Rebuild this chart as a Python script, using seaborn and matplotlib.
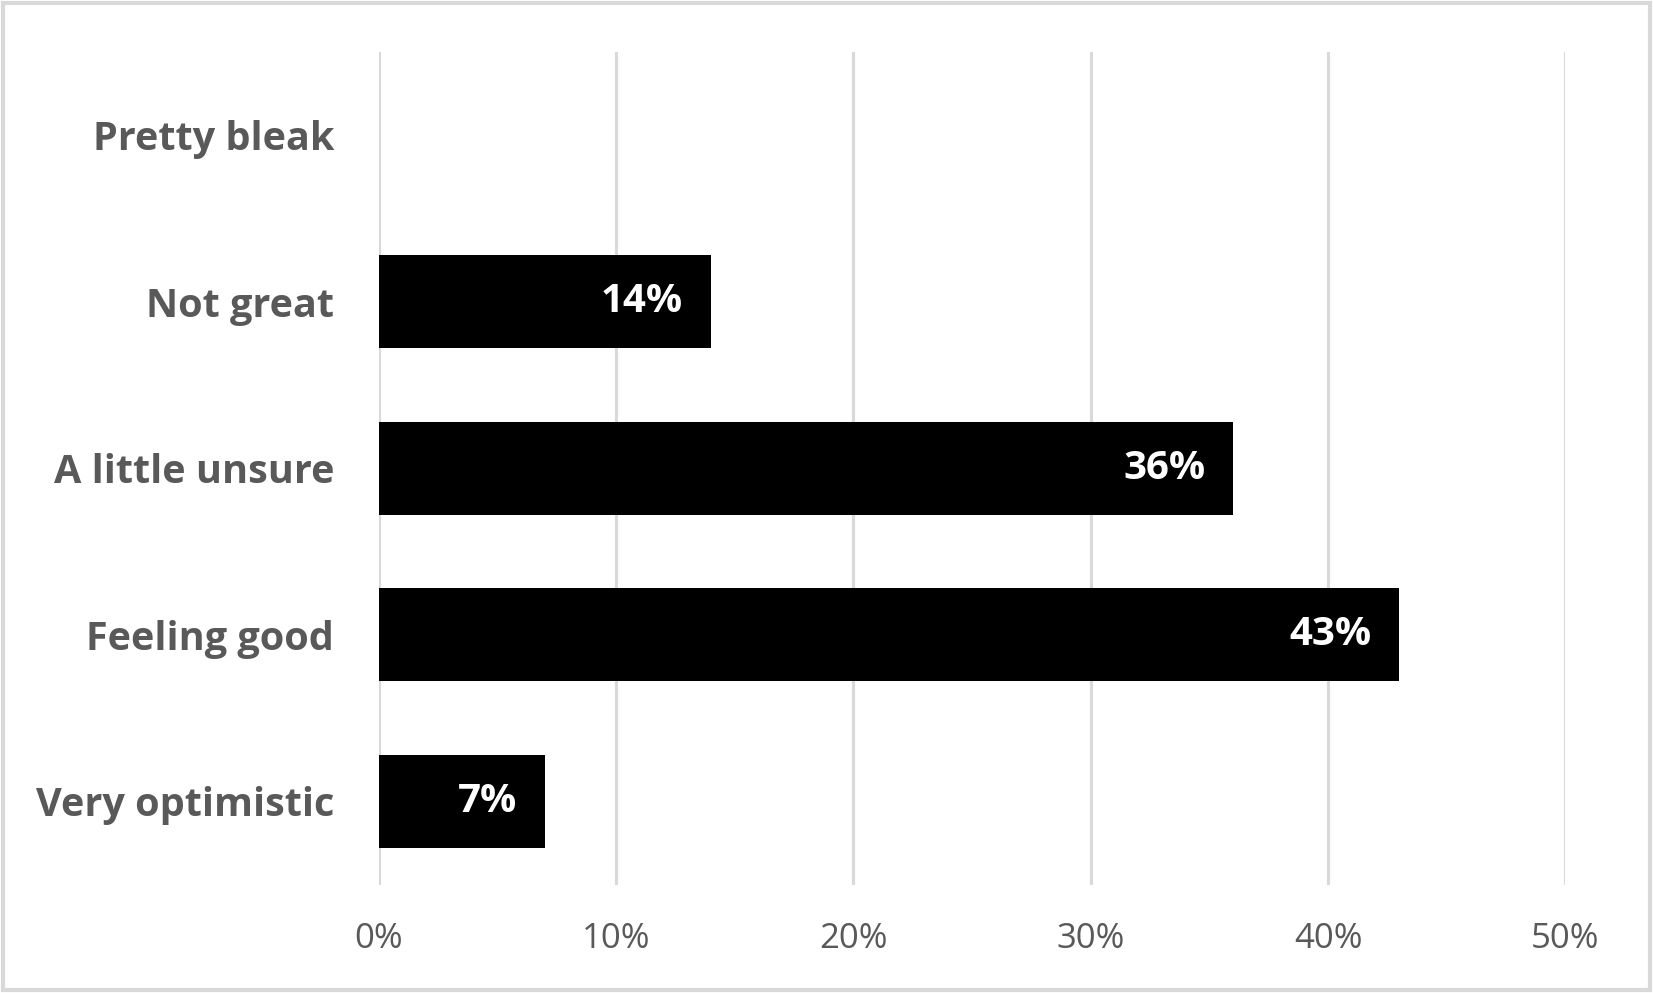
import matplotlib
matplotlib.use("Agg")
import matplotlib.pyplot as plt
import seaborn as sns
import pandas as pd
from matplotlib.patches import Rectangle

categories = ["Pretty bleak", "Not great", "A little unsure", "Feeling good", "Very optimistic"]
values = [0, 14, 36, 43, 7]
xticks = [0, 10, 20, 30, 40, 50]
xtick_labels = ["0%", "10%", "20%", "30%", "40%", "50%"]

sns.set_theme(style="white")
plt.rcParams['font.family'] = ['Open Sans', 'DejaVu Sans']

df = pd.DataFrame({"cat": categories, "val": values})

fig = plt.figure(figsize=(16.53, 9.93), dpi=100)
ax = fig.add_axes([0.229, 0.109, 0.718, 0.839])

sns.barplot(data=df, y="cat", x="val", color="black", width=0.56, ax=ax,
            saturation=1, orient="h", linewidth=0)

ax.set_xlim(0, 50)
ax.set_ylim(4.5, -0.5)
ax.set_xticks(xticks)
ax.set_xticklabels(xtick_labels, fontsize=25, color="#595959")
ax.set_yticklabels(categories, fontsize=28.5, fontweight="bold", color="#595959")
ax.set_xlabel("")
ax.set_ylabel("")
ax.tick_params(axis="x", length=0, pad=27)
ax.tick_params(axis="y", length=0, pad=32)
for s in ax.spines.values():
    s.set_visible(False)
ax.grid(axis="x", color="#d9d9d9", linewidth=2.2)
ax.set_axisbelow(True)

for i, v in enumerate(values):
    if v > 0:
        ax.annotate(f"{v}%", xy=(v, i), xytext=(-20, 0), textcoords="offset points",
                    ha="right", va="center", color="white", fontsize=29, fontweight="bold")

fig.patches.append(Rectangle((0.002, 0.003), 0.996, 0.994, transform=fig.transFigure,
                             fill=False, edgecolor="#d9d9d9", linewidth=3))

fig.savefig("out.png", dpi=100, facecolor="white")
